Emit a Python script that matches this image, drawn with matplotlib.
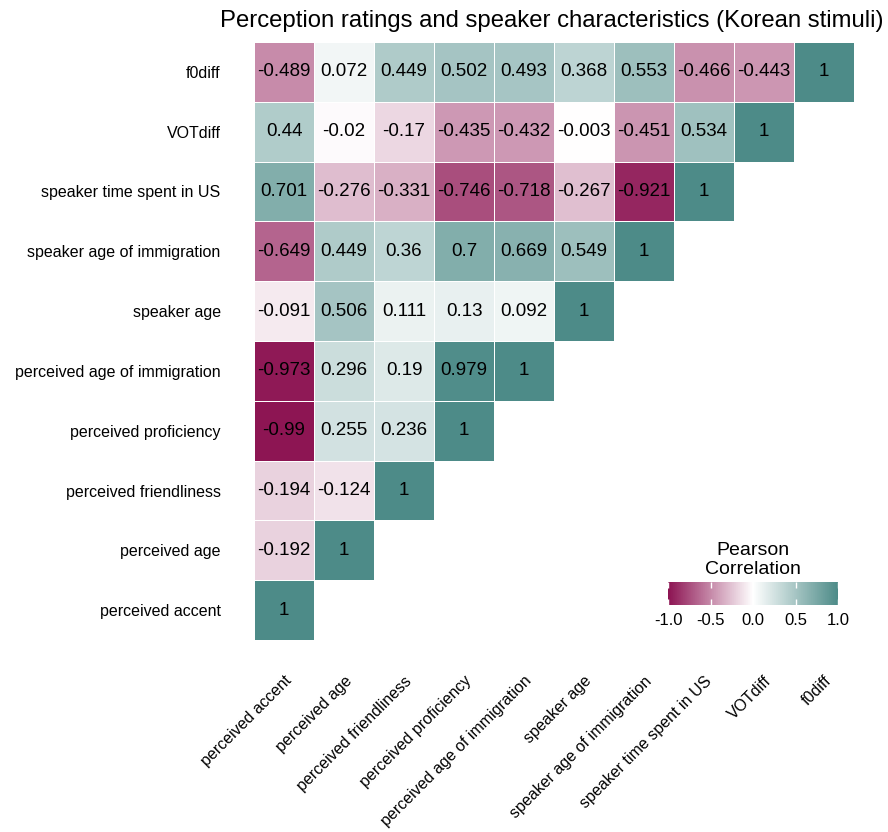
import numpy as np
import matplotlib
matplotlib.use("Agg")
import matplotlib.pyplot as plt
from matplotlib.colors import LinearSegmentedColormap, Normalize

plt.rcParams["font.family"] = ["Liberation Sans", "DejaVu Sans"]

variables = [
    "perceived accent",
    "perceived age",
    "perceived friendliness",
    "perceived proficiency",
    "perceived age of immigration",
    "speaker age",
    "speaker age of immigration",
    "speaker time spent in US",
    "VOTdiff",
    "f0diff",
]

# lower triangle, one row per variable (bottom to top), columns left to right
r_accent = [1]
r_age = [-0.192, 1]
r_friendly = [-0.194, -0.124, 1]
r_proficiency = [-0.99, 0.255, 0.236, 1]
r_perc_aoi = [-0.973, 0.296, 0.19, 0.979, 1]
r_spk_age = [-0.091, 0.506, 0.111, 0.13, 0.092, 1]
r_spk_aoi = [-0.649, 0.449, 0.36, 0.7, 0.669, 0.549, 1]
r_time_us = [0.701, -0.276, -0.331, -0.746, -0.718, -0.267, -0.921, 1]
r_votdiff = [0.44, -0.02, -0.17, -0.435, -0.432, -0.003, -0.451, 0.534, 1]
r_f0diff = [-0.489, 0.072, 0.449, 0.502, 0.493, 0.368, 0.553, -0.466, -0.443, 1]

rows = [r_accent, r_age, r_friendly, r_proficiency, r_perc_aoi,
        r_spk_age, r_spk_aoi, r_time_us, r_votdiff, r_f0diff]

cbar_ticks = [-1.0, -0.5, 0.0, 0.5, 1.0]

n = len(variables)
corr = np.full((n, n), np.nan)
for i, row in enumerate(rows):
    corr[i, :len(row)] = row

cmap = LinearSegmentedColormap.from_list(
    "pearson", ["#8c1352", "#ffffff", "#4d8b88"])
norm = Normalize(-1, 1)

fig = plt.figure(figsize=(8.88, 8.32), dpi=100)
ax = fig.add_axes([254 / 888, 192 / 832, 600 / 888, 598 / 832])

mesh = ax.pcolormesh(np.arange(n + 1) - 0.5, np.arange(n + 1) - 0.5,
                     np.ma.masked_invalid(corr), cmap=cmap, norm=norm,
                     edgecolors="white", linewidth=0.6)

for i, row in enumerate(rows):
    for j, v in enumerate(row):
        ax.text(j, i, f"{v:g}", ha="center", va="center",
                fontsize=13.5, color="black")

ax.set_xlim(-0.5, n - 0.5)
ax.set_ylim(-0.5, n - 0.5)
ax.set_xticks(range(n))
ax.set_yticks(range(n))
ax.set_xticklabels(variables, rotation=45, ha="right", va="top",
                   rotation_mode="anchor", fontsize=11.5)
ax.set_yticklabels(variables, fontsize=11.5)
ax.tick_params(axis="both", length=0)
ax.tick_params(axis="y", pad=24)
ax.tick_params(axis="x", pad=24)
for s in ax.spines.values():
    s.set_visible(False)

fig.text(552 / 888, 1 - 27 / 832,
         "Perception ratings and speaker characteristics (Korean stimuli)",
         ha="center", va="baseline", fontsize=17.2)

# colour legend
cax = fig.add_axes([668 / 888, 227 / 832, 170 / 888, 23 / 832])
cbar = fig.colorbar(mesh, cax=cax, orientation="horizontal", ticks=cbar_ticks)
cbar.outline.set_visible(False)
cax.set_xticklabels([f"{t:.1f}" for t in cbar_ticks], fontsize=12)
cax.tick_params(axis="x", direction="in", color="white", length=4,
                width=1, top=True, bottom=True, labelbottom=True,
                labeltop=False, pad=6)
fig.text(753 / 888, 1 - 574 / 832, "Pearson\nCorrelation",
         ha="center", va="baseline", fontsize=14, linespacing=1.15)

fig.savefig("out.png", dpi=100)
